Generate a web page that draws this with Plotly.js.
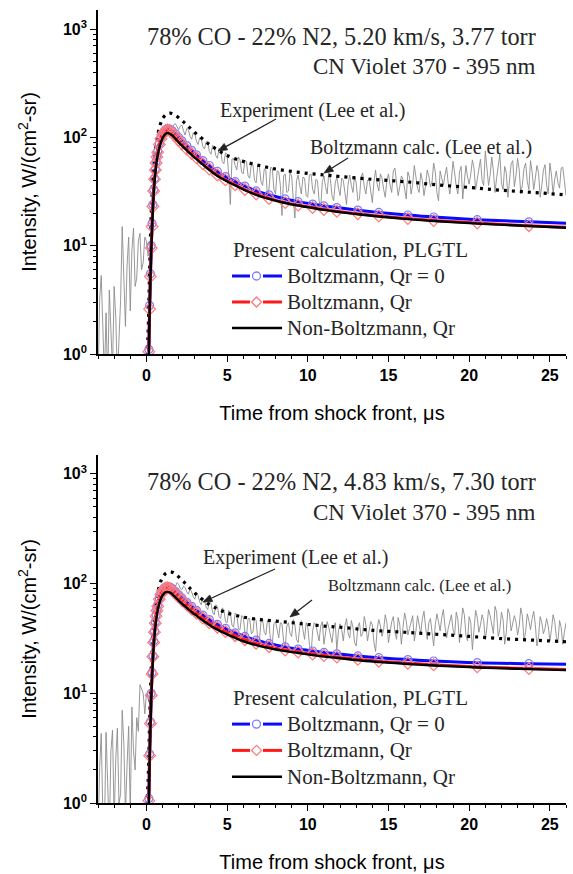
<!DOCTYPE html>
<html>
<head>
<meta charset="utf-8">
<script src="https://cdn.plot.ly/plotly-3.0.1.min.js"></script>
<style>
  html, body { margin: 0; padding: 0; background: #fff; }
  #chart { width: 573px; height: 874px; }
</style>
</head>
<body>
<div id="chart"></div>
<script>
// ---------------- DATA ----------------
const panelTitles1 = ["78% CO - 22% N2, 5.20 km/s, 3.77 torr", "78% CO - 22% N2, 4.83 km/s, 7.30 torr"];
const panelTitles2 = ["CN Violet 370 - 395 nm", "CN Violet 370 - 395 nm"];
const seriesNames = ["Boltzmann, Qr = 0", "Boltzmann, Qr", "Non-Boltzmann, Qr"];
const legendTitle = "Present calculation, PLGTL";
const expLabel = "Experiment (Lee et al.)";
const leeLabel = "Boltzmann calc. (Lee et al.)";

const yTickVals = [1, 10, 100, 1000];
const yTickText = ["<b>10<sup>0</sup></b>", "<b>10<sup>1</sup></b>", "<b>10<sup>2</sup></b>", "<b>10<sup>3</sup></b>"];
const xTickVals = [0, 5, 10, 15, 20, 25];
const xTickText = ["<b>0</b>", "<b>5</b>", "<b>10</b>", "<b>15</b>", "<b>20</b>", "<b>25</b>"];

// Experiment time samples (us)
const expT = [-3,-2.9,-2.8,-2.7,-2.6,-2.5,-2.4,-2.3,-2.2,-2.1,
  -2,-1.9,-1.8,-1.7,-1.6,-1.5,-1.4,-1.3,-1.2,-1.1,
  -1,-0.9,-0.8,-0.7,-0.6,-0.5,-0.4,-0.3,-0.2,-0.1,
  0,0.1,0.2,0.3,0.4,0.5,0.6,0.7,0.8,0.9,
  1,1.1,1.2,1.3,1.4,1.5,1.6,1.7,1.8,1.9,
  2,2.1,2.2,2.3,2.4,2.5,2.6,2.7,2.8,2.9,
  3,3.1,3.2,3.3,3.4,3.5,3.6,3.7,3.8,3.9,
  4,4.1,4.2,4.3,4.4,4.5,4.6,4.7,4.8,4.9,
  5,5.1,5.2,5.3,5.4,5.5,5.6,5.7,5.8,5.9,
  6,6.1,6.2,6.3,6.4,6.5,6.6,6.7,6.8,6.9,
  7,7.1,7.2,7.3,7.4,7.5,7.6,7.7,7.8,7.9,
  8,8.1,8.2,8.3,8.4,8.5,8.6,8.7,8.8,8.9,
  9,9.1,9.2,9.3,9.4,9.5,9.6,9.7,9.8,9.9,
  10,10.1,10.2,10.3,10.4,10.5,10.6,10.7,10.8,10.9,
  11,11.1,11.2,11.3,11.4,11.5,11.6,11.7,11.8,11.9,
  12,12.1,12.2,12.3,12.4,12.5,12.6,12.7,12.8,12.9,
  13,13.1,13.2,13.3,13.4,13.5,13.6,13.7,13.8,13.9,
  14,14.1,14.2,14.3,14.4,14.5,14.6,14.7,14.8,14.9,
  15,15.1,15.2,15.3,15.4,15.5,15.6,15.7,15.8,15.9,
  16,16.1,16.2,16.3,16.4,16.5,16.6,16.7,16.8,16.9,
  17,17.1,17.2,17.3,17.4,17.5,17.6,17.7,17.8,17.9,
  18,18.1,18.2,18.3,18.4,18.5,18.6,18.7,18.8,18.9,
  19,19.1,19.2,19.3,19.4,19.5,19.6,19.7,19.8,19.9,
  20,20.1,20.2,20.3,20.4,20.5,20.6,20.7,20.8,20.9,
  21,21.1,21.2,21.3,21.4,21.5,21.6,21.7,21.8,21.9,
  22,22.1,22.2,22.3,22.4,22.5,22.6,22.7,22.8,22.9,
  23,23.1,23.2,23.3,23.4,23.5,23.6,23.7,23.8,23.9,
  24,24.1,24.2,24.3,24.4,24.5,24.6,24.7,24.8,24.9,
  25,25.1,25.2,25.3,25.4,25.5,25.6,25.7,25.8,25.9,
  26];

// Experiment intensity, top panel (5.20 km/s)
const exp1 = [0.5,3.2,5.3,1.1,0.6,2.4,0.5,3.9,1.8,0.7,
  4.2,2.2,0.6,1.5,3.1,15,4.0,1.8,6.5,12,
  2.5,9.0,14.5,4.2,5.0,11,13,6.0,7.0,12,
  11,8,9,14,22,33,48,65,85,98,
  105,112,118,124,126,120,122,131,134,125,
  118,127,130,115,105,121,118,102,96,110,
  108,92,86,99,97,82,78,91,90,74,
  70,84,82,68,64,79,76,60,57,72,
  70,45,24,63,64,55,50,66,62,48,
  46,61,60,44,42,57,56,40,38,55,
  54,39,36,51,50,28,34,53,52,33,
  30,49,48,36,19,44,46,31,32,47,
  44,27,18,40,45,36,30,43,42,29,
  28,45,46,33,30,41,40,26,22,39,
  44,35,30,47,41,29,26,38,43,34,
  29,42,40,31,24,37,45,36,31,44,
  38,26,27,43,47,35,30,40,41,32,
  25,39,50,37,32,46,42,33,28,40,
  46,36,31,49,52,38,29,35,44,41,
  33,27,48,43,30,37,55,45,34,31,
  47,40,29,36,50,44,35,39,58,48,
  31,26,49,42,36,45,53,38,30,41,
  60,47,35,30,48,54,27,39,55,43,
  37,46,62,52,33,41,51,63,40,36,
  75,55,36,45,66,49,31,42,58,70,
  38,33,54,47,28,40,57,61,35,44,
  64,50,30,37,52,58,39,33,61,48,
  33,42,55,47,28,36,50,56,36,30,
  58,45,30,41,49,38,34,52,53,40,
  29];

// Experiment intensity, bottom panel (4.83 km/s)
const exp2 = [0.5,2.1,4.3,0.8,0.6,4.4,1.5,0.5,3.0,4.6,
  0.7,2.5,4.8,1.0,1.2,7,3.5,0.8,2.2,5.0,
  0.8,7.5,3.0,2.0,6.0,4.5,12,11,10,6.5,
  10,9,8,12,18,27,40,54,68,76,
  82,88,92,95,96,91,100,97,94,102,
  98,90,88,95,92,84,80,89,84,76,
  72,81,78,68,64,74,70,61,58,69,
  66,55,52,64,62,50,48,60,58,45,
  44,57,55,42,40,54,52,39,38,51,
  50,36,33,48,48,35,36,49,46,31,
  30,45,47,36,34,46,44,29,28,43,
  45,38,32,44,43,30,26,41,44,35,
  33,47,42,31,29,40,46,38,31,44,
  40,28,22,37,44,42,34,30,41,45,
  28,36,45,40,33,29,39,44,25,37,
  43,38,30,41,48,35,32,46,40,29,
  27,40,44,33,35,50,42,30,37,45,
  42,29,24,39,47,41,33,38,52,44,
  29,37,45,50,36,31,49,42,28,40,
  54,46,34,39,46,51,30,37,51,43,
  35,48,56,40,31,44,48,36,27,42,
  53,45,37,49,58,41,32,39,47,52,
  38,34,55,47,29,41,60,52,34,30,
  50,44,25,38,57,49,36,42,52,46,
  31,40,58,51,40,35,62,55,33,38,
  55,47,28,36,59,53,37,43,51,45,
  34,41,60,50,30,37,53,46,38,48,
  56,42,27,33,50,44,35,39,48,41,
  30,38,52,45,33,29,46,40,28,36,
  44];

// Lee et al. Boltzmann calculation (dotted)
const leeT = [0,0.1,0.2,0.3,0.4,0.5,0.6,0.7,0.8,0.9,1.0,1.2,1.4,1.6,1.8,2.0,2.3,2.6,3.0,3.5,4.0,4.5,5,6,7,8,9,10,11,12,14,16,18,20,22,24,26];
const lee1 = [0.8,1.5,6,20,40,62,85,105,122,137,149,162,167,166,160,152,139,126,111,96,84,75,68,60,55,51,48.5,46.5,45,43.5,41,39,36.5,34.5,32.5,31,29.4];
const lee2 = [0.8,1.5,5.5,17,33,50,67,82,95,106,114,124,128,127,122,115,104,94,82,71,63,58,54,49.5,47,45.5,44,42.5,41,40,37.5,36,34.5,33,31.5,30.5,29.5];

// Present calculation (PLGTL) grid
const calcT = [0.15,0.2,0.25,0.3,0.35,0.4,0.45,0.5,0.55,0.6,0.65,0.7,0.8,0.9,1.0,1.1,1.2,1.3,1.45,1.6,1.8,2.0,2.2,2.5,2.8,3.1,3.5,3.9,4.4,4.9,5.5,6.1,6.8,7.6,8.6,9.4,10.3,11.0,11.8,13.1,14.4,16.2,17.8,20.5,23.7,26.5];
// top panel
const blue1 = [1.1,2.8,5.5,10,16,24,33,42,51,60,68,75,88,99,108,114,118,120,119,115,108,100,93,84,76,69,61,55,48.5,43.5,39,35.5,32,29.5,27,25.5,24.2,23.3,22.5,21.3,20.3,19.2,18.4,17.4,16.6,16.0];
const red1  = [1.05,2.6,5.2,9.5,15,23,32,41,50,58,66,73,86,97,106,112,116,117,115,110,102,94,87,78,71,65,57,51,45,40.5,36.5,33,30,27.3,25,23.7,22.5,21.6,20.8,19.7,18.8,17.8,17.1,16.2,15.3,14.7];
const black1= [1.0,2.5,5,9,14,22,30,38,46,55,62,68,80,90,98,104,108,110,108,104,97,90,84,76,69,63,56,50,44,40,36,32.5,29.5,27,24.8,23.5,22.3,21.4,20.6,19.5,18.6,17.6,16.9,16.0,15.2,14.5];
// bottom panel
const blue2 = [1.1,2.8,5.5,10,15.5,22,30,37,45,52,58,64,74,82,87.5,91,93,94,93,90,84.5,79,74,67.5,62,57,51.5,47,42.5,39,35.5,33,30.5,28.5,26.5,25.3,24.3,23.6,22.9,21.9,21.1,20.3,19.7,19.0,18.6,18.3];
const red2  = [1.05,2.7,5.3,9.6,15,21.5,29,36,43.5,50.5,56.5,62,72,80,85.5,89,91,91.5,90,86.5,81,75.5,70.5,64,58.5,54,48.5,44,40,36.5,33.5,30.8,28.5,26.6,24.8,23.8,22.8,22.1,21.4,20.4,19.6,18.8,18.2,17.4,16.8,16.4];
const black2= [1.0,2.5,5,9,14,20,27,33,40,46,52,57,66,73,78,81.5,83.5,84,83,80,75,70,65.5,60,55,51,46,42,38,35,32,29.5,27.5,25.8,24.2,23.3,22.3,21.6,21,20,19.3,18.5,17.9,17.2,16.6,16.2];

// ---------------- LAYOUT / STYLE ----------------
const W = 573, H = 874;
const M = {l: 98, r: 7, t: 10, b: 71};
const PW = W - M.l - M.r, PH = H - M.t - M.b;
const px2x = px => (px - M.l) / PW;
const py2y = py => (H - M.b - py) / PH;

const serif = "'Liberation Serif', 'Times New Roman', serif";
const sans = "'Liberation Sans', Arial, sans-serif";
const txtColor = "#262626";

const BLUE = "#0a0aff", RED = "#ff1a1a", BLK = "#000000";
const BLUE_M = "#7d7dff", RED_M = "#ff7a7a";

function panelTraces(xa, ya, exp, lee, b, r, k) {
  return [
    {x: expT, y: exp, xaxis: xa, yaxis: ya, type: "scatter", mode: "lines",
     line: {color: "#8c8c8c", width: 0.9}, showlegend: false, name: expLabel},
    {x: leeT, y: lee, xaxis: xa, yaxis: ya, type: "scatter", mode: "lines",
     line: {color: BLK, width: 3.2, dash: "3px,5px", shape: "spline"}, showlegend: false, name: leeLabel},
    {x: calcT, y: b, xaxis: xa, yaxis: ya, type: "scatter", mode: "lines+markers",
     line: {color: BLUE, width: 3, shape: "spline"},
     marker: {symbol: "circle-open", size: 8, color: BLUE_M, line: {width: 1.2}},
     showlegend: false, name: seriesNames[0]},
    {x: calcT, y: r, xaxis: xa, yaxis: ya, type: "scatter", mode: "lines+markers",
     line: {color: RED, width: 3, shape: "spline"},
     marker: {symbol: "diamond-open", size: 9, color: RED_M, line: {width: 1.2}},
     showlegend: false, name: seriesNames[1]},
    {x: calcT, y: k, xaxis: xa, yaxis: ya, type: "scatter", mode: "lines",
     line: {color: BLK, width: 2.4, shape: "spline"}, showlegend: false, name: seriesNames[2]}
  ];
}

const data = [].concat(
  panelTraces("x", "y", exp1, lee1, blue1, red1, black1),
  panelTraces("x2", "y2", exp2, lee2, blue2, red2, black2)
);

function xAxis(anchor) {
  return {
    anchor: anchor, domain: [0, 1], range: [-3, 26], type: "linear",
    showline: true, linecolor: "#000", linewidth: 1.6, mirror: false,
    showgrid: false, zeroline: false,
    ticks: "outside", ticklen: 6, tickwidth: 1.4, tickcolor: "#000",
    tickmode: "array", tickvals: xTickVals, ticktext: xTickText,
    tickfont: {family: sans, size: 16, color: "#000"},
    minor: {tickmode: "linear", tick0: 0, dtick: 1, ticks: "outside", ticklen: 3.5, tickwidth: 1.2, tickcolor: "#000", showgrid: false},
    title: {text: "Time from shock front, \u03bcs", font: {family: sans, size: 20, color: "#000"}, standoff: 23}
  };
}
const minorY = [2,3,4,5,6,7,8,9,20,30,40,50,60,70,80,90,200,300,400,500,600,700,800,900];
function yAxis(anchor, domain, top) {
  return {
    anchor: anchor, domain: domain, type: "log", range: [0, top],
    showline: true, linecolor: "#000", linewidth: 1.6, mirror: false,
    showgrid: false, zeroline: false,
    ticks: "outside", ticklen: 6, tickwidth: 1.4, tickcolor: "#000",
    tickmode: "array", tickvals: yTickVals, ticktext: yTickText,
    tickfont: {family: sans, size: 16, color: "#000"},
    minor: {tickmode: "array", tickvals: minorY, ticks: "outside", ticklen: 3.5, tickwidth: 1.2, tickcolor: "#000", showgrid: false},
    title: {text: "Intensity, W/(cm<sup>2</sup>-sr)", font: {family: sans, size: 20, color: "#000"}, standoff: 21}
  };
}

const panels = [
  {top: 10, bot: 354},
  {top: 455, bot: 803}
];
function mapY(i, pyTop) {
  const p = panels[i], p0 = panels[0];
  return p.top + (pyTop - p0.top) * (p.bot - p.top) / (p0.bot - p0.top);
}

const annotations = [];
const shapes = [];

const textSpec = [
  {t1y: 36, t2y: 66, expX: 218, expY: 110, leeX: 308, leeY: 147, leeSize: 20,
   arr1: {hx: 218, hy: 151, ax: 58, ay: -32}, arr2: {hx: 324, hy: 173, ax: 24, ay: -15}},
  {t1y: 481, t2y: 512, expX: 201, expY: 557, leeX: 326, leeY: 585, leeSize: 16.5,
   arr1: {hx: 203, hy: 602, ax: 72, ay: -33}, arr2: {hx: 290, hy: 617, ax: 22, ay: -17}}
];

function addArrow(a) {
  const L = Math.hypot(a.ax, a.ay);
  const ux = -a.ax / L, uy = -a.ay / L;
  const hl = 9, hw = 3.6;
  const bx = -hl * ux, by = -hl * uy;
  const nx = -uy, ny = ux;
  const p1 = [bx + hw * nx, by + hw * ny], p2 = [bx - hw * nx, by - hw * ny];
  shapes.push({type: "line", xref: "paper", yref: "paper",
    x0: px2x(a.hx + a.ax), y0: py2y(a.hy + a.ay), x1: px2x(a.hx + bx), y1: py2y(a.hy + by),
    line: {color: "#222", width: 1.3}});
  const f = v => v.toFixed(2);
  shapes.push({type: "path", xref: "paper", yref: "paper", xsizemode: "pixel", ysizemode: "pixel",
    xanchor: px2x(a.hx), yanchor: py2y(a.hy),
    path: `M0,0 L${f(p1[0])},${f(-p1[1])} L${f(p2[0])},${f(-p2[1])} Z`,
    fillcolor: "#222", line: {color: "#222", width: 0.8}});
}

textSpec.forEach((s, i) => {
  annotations.push({xref: "paper", yref: "paper", x: px2x(538), y: py2y(s.t1y), xanchor: "right", yanchor: "middle",
    text: panelTitles1[i], showarrow: false, font: {family: serif, size: 24.3, color: txtColor}});
  annotations.push({xref: "paper", yref: "paper", x: px2x(538), y: py2y(s.t2y), xanchor: "right", yanchor: "middle",
    text: panelTitles2[i], showarrow: false, font: {family: serif, size: 23, color: txtColor}});
  annotations.push({xref: "paper", yref: "paper", x: px2x(s.expX), y: py2y(s.expY), xanchor: "left", yanchor: "middle",
    text: expLabel, showarrow: false, font: {family: serif, size: 20, color: txtColor}});
  annotations.push({xref: "paper", yref: "paper", x: px2x(s.leeX), y: py2y(s.leeY), xanchor: "left", yanchor: "middle",
    text: leeLabel, showarrow: false, font: {family: serif, size: s.leeSize, color: txtColor}});
  addArrow(s.arr1);
  addArrow(s.arr2);

  const ty = mapY(i, 250), r1 = mapY(i, 276), r2 = mapY(i, 302), r3 = mapY(i, 328);
  annotations.push({xref: "paper", yref: "paper", x: px2x(231), y: py2y(ty), xanchor: "left", yanchor: "middle",
    text: legendTitle, showarrow: false, font: {family: serif, size: 21, color: txtColor}});
  [[r1, seriesNames[0]], [r2, seriesNames[1]], [r3, seriesNames[2]]].forEach(([ry, nm]) => {
    annotations.push({xref: "paper", yref: "paper", x: px2x(285), y: py2y(ry), xanchor: "left", yanchor: "middle",
      text: nm, showarrow: false, font: {family: serif, size: 21, color: txtColor}});
  });
  [[232, 250], [263, 282]].forEach(([a, b]) => {
    shapes.push({type: "line", xref: "paper", yref: "paper", x0: px2x(a), x1: px2x(b), y0: py2y(r1), y1: py2y(r1),
      line: {color: BLUE, width: 3}});
    shapes.push({type: "line", xref: "paper", yref: "paper", x0: px2x(a), x1: px2x(b), y0: py2y(r2), y1: py2y(r2),
      line: {color: RED, width: 3}});
  });
  shapes.push({type: "circle", xref: "paper", yref: "paper", xsizemode: "pixel", ysizemode: "pixel",
    xanchor: px2x(256.5), yanchor: py2y(r1), x0: -4, x1: 4, y0: -4, y1: 4, line: {color: BLUE_M, width: 1.3}});
  shapes.push({type: "path", xref: "paper", yref: "paper", xsizemode: "pixel", ysizemode: "pixel",
    xanchor: px2x(256.5), yanchor: py2y(r2), path: "M0,-5 L5,0 L0,5 L-5,0 Z", line: {color: RED_M, width: 1.3}});
  shapes.push({type: "line", xref: "paper", yref: "paper", x0: px2x(232), x1: px2x(282), y0: py2y(r3), y1: py2y(r3),
    line: {color: BLK, width: 2.4}});
});

const layout = {
  width: W, height: H,
  margin: M,
  paper_bgcolor: "#fff", plot_bgcolor: "#fff",
  showlegend: false,
  xaxis: xAxis("y"),
  xaxis2: xAxis("y2"),
  yaxis: yAxis("x", [py2y(354), 1], 3.176),
  yaxis2: yAxis("x2", [0, py2y(455)], 3.172),
  annotations: annotations,
  shapes: shapes
};

Plotly.newPlot("chart", data, layout, {displayModeBar: false});
</script>
</body>
</html>
